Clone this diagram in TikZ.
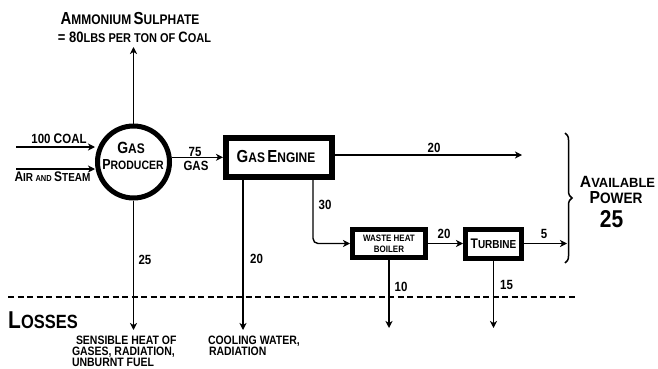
\documentclass[tikz,border=0pt]{standalone}
\usepackage{fontspec}
\usepackage{graphicx}
\setmainfont{Liberation Sans}[FakeStretch=0.86]
\usetikzlibrary{arrows.meta,decorations.pathreplacing}
\newcommand\fs[1]{\fontsize{\fpeval{#1*1.16}pt}{\fpeval{#1*1.16}pt}\selectfont}
\newcommand\SC[4]{{\fs{#1}#2}{\fs{#3}#4}}
\tikzset{
  every node/.style={font=\bfseries, inner sep=0pt, outer sep=0pt},
  lbl/.style={font=\bfseries\fs{11.5}},
  btxt/.style={anchor=base west, font=\bfseries\fs{10.5}},
  flow/.style={line width=1.4pt, -{Stealth[length=7pt,width=7pt,inset=2pt]}},
  thickbox/.style={draw, rectangle, line width=6pt, outer sep=3pt},
  smallbox/.style={draw, rectangle, line width=5pt, outer sep=2.5pt},
}
\begin{document}
\begin{tikzpicture}[x=1pt,y=-1pt]
\useasboundingbox (0,0) rectangle (658,369);
% nodes
\node[circle, draw, line width=5pt, outer sep=2.5pt, minimum size=72pt] (prod) at (133.5,162) {};
\node (prodt1) at (131,147.5) {\SC{14}{G}{12}{AS}};
\node (prodt2) at (133,164.5) {\SC{12.5}{P}{10.5}{RODUCER}};
\node[thickbox, minimum width=106pt, minimum height=39pt] (eng) at (279,157.5) {};
\node (engt) at (276,156.5) {\SC{15}{G}{12}{AS} \SC{15}{E}{12}{NGINE}};
\node[smallbox, minimum width=73pt, minimum height=28pt, align=center] (boil) at (389,243.5) {\fs{8}WASTE HEAT\\[-1pt]\fs{8}BOILER};
\node[smallbox, minimum width=56pt, minimum height=29pt] (turb) at (493.5,243.5) {\SC{12}{T}{10}{URBINE}};
% text labels
\node (amm1) at (130,19) {\SC{15}{A}{12}{MMONIUM} \SC{15}{S}{12}{ULPHATE}};
\node (amm2) at (134.5,37) {{\fs{13}= 80}{\fs{11}LBS PER TON OF }{\fs{13}C}{\fs{11}OAL}};
\node (coal) at (59,139) {\fs{11.5}100 {\fs{12}C}OAL};
\node (air) at (52.5,177) {\SC{12}{A}{10}{IR} {\fs{7.5}AND} \SC{12}{S}{10}{TEAM}};
\node[lbl] (g75) at (195,151.5) {75};
\node[lbl] (ggas) at (196,166) {GAS};
\node[lbl] (p20) at (434,147.5) {20};
\node[lbl] (p30) at (325,205) {30};
\node[lbl] (b20) at (444,234) {20};
\node[lbl] (t5) at (544,234) {5};
\node[lbl] (l25) at (145,260) {25};
\node[lbl] (l20) at (256.5,259) {20};
\node[lbl] (l10) at (401,287) {10};
\node[lbl] (l15) at (506.5,285) {15};
\node (av1) at (617.5,181.5) {\scalebox{1.13}[1]{\SC{14}{A}{11.5}{VAILABLE}}};
\node (av2) at (616,198) {\scalebox{1.05}[1]{\SC{15}{P}{13}{OWER}}};
\node (av3) at (611.5,219.5) {\fs{21}25};
\node (loss) at (43,320) {\SC{21}{L}{16.5}{OSSES}};
\node[btxt] (sens1) at (76,344.5) {SENSIBLE HEAT OF};
\node[btxt] (sens2) at (72,355.5) {GASES, RADIATION,};
\node[btxt] (sens3) at (72,366.5) {UNBURNT FUEL};
\node[btxt] (cool1) at (208,344.5) {COOLING WATER,};
\node[btxt] (cool2) at (209,355.5) {RADIATION};
% coordinates
\coordinate (ammtip) at (133.5,47);
\coordinate (coalin) at (16,147);
\coordinate (airin) at (16,169);
\coordinate (pow1) at (522,155);
\coordinate (c30) at (313,243.5);
\coordinate (br) at (567,243.5);
\coordinate (l1) at (133.5,330);
\coordinate (l2) at (243,330);
\coordinate (l3) at (389,328);
\coordinate (l4) at (493.5,328);
% connectors
\draw[flow] (prod.north) -- (ammtip);
\draw[flow] (coalin) -- (coalin -| prod.west);
\draw[flow] (airin) -- (airin -| prod.west);
\draw[flow] (prod.7) -- (prod.7 -| eng.west);
\draw[flow] (eng.east |- pow1) -- (pow1);
\draw[flow, rounded corners=5pt] (eng.south -| c30) -- (c30) -- (boil.west);
\draw[flow] (boil.east) -- (turb.west);
\draw[flow] (turb.east) -- (br);
\draw[flow] (prod.south) -- (l1);
\draw[flow] (eng.south -| l2) -- (l2);
\draw[flow] (boil.south) -- (l3);
\draw[flow] (turb.south) -- (l4);
% brace and dashed line
\draw[line width=1.5pt, decorate, decoration={brace, amplitude=7pt}] (565,133) -- (565,263);
\draw[line width=1.8pt, dash pattern=on 6pt off 3.5pt] (8,297) -- (575,297);
\end{tikzpicture}
\end{document}
